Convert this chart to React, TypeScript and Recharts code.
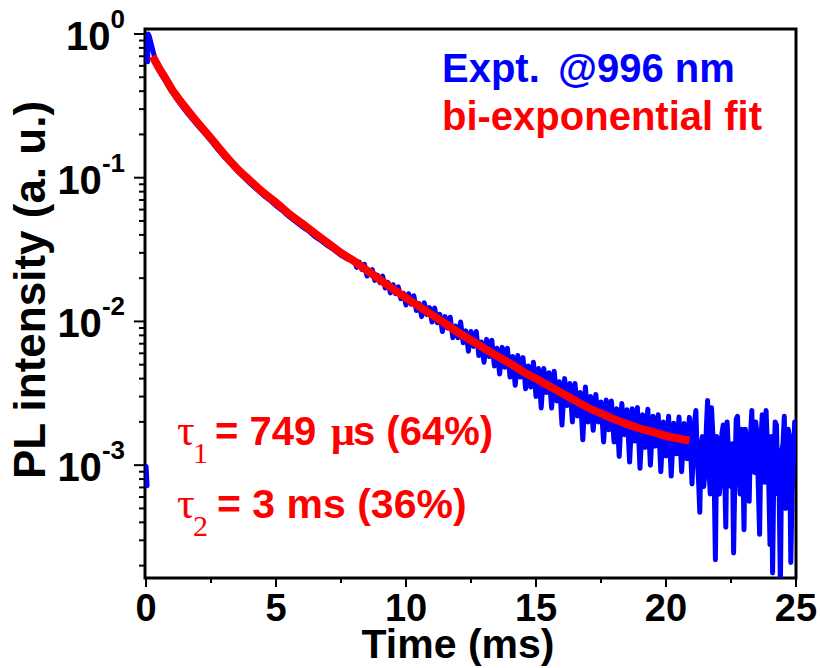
import { LineChart, Line, XAxis, YAxis, ReferenceArea } from 'recharts'

const SANS = "'Liberation Sans', Arial, Helvetica, sans-serif"
const SERIF = "'Liberation Serif', 'Times New Roman', serif"

const X_MIN = -0.04
const X_MAX = 25
const Y_MIN = 1.64e-4
const Y_MAX = 1.083

// measured decay @996 nm (ms, a.u.)
const exptTime = [
  0, 0.04, 0.05, 0.06, 0.08, 0.12, 0.2, 0.3, 0.4, 0.5, 0.75, 1, 1.25, 1.5, 1.75, 2, 2.25, 2.5, 2.75, 3, 3.25, 3.5,
  3.75, 4, 4.25, 4.5, 4.75, 5, 5.25, 5.5, 5.75, 6, 6.25, 6.5, 6.75, 7, 7.25, 7.5, 7.75,
  8.0, 8.1, 8.2, 8.3, 8.4, 8.5, 8.6, 8.7, 8.8, 8.9,
  9.0, 9.1, 9.2, 9.3, 9.4, 9.5, 9.6, 9.7, 9.8, 9.9,
  10.0, 10.1, 10.2, 10.3, 10.4, 10.5, 10.6, 10.7, 10.8, 10.9,
  11.0, 11.1, 11.2, 11.3, 11.4, 11.5, 11.6, 11.7, 11.8, 11.9,
  12.0, 12.1, 12.2, 12.3, 12.4, 12.5, 12.6, 12.7, 12.8, 12.9,
  13.0, 13.1, 13.2, 13.3, 13.4, 13.5, 13.6, 13.7, 13.8, 13.9,
  14.0, 14.1, 14.2, 14.3, 14.4, 14.5, 14.6, 14.7, 14.8, 14.9,
  15.0, 15.1, 15.2, 15.3, 15.4, 15.5, 15.6, 15.7, 15.8, 15.9,
  16.0, 16.1, 16.2, 16.3, 16.4, 16.5, 16.6, 16.7, 16.8, 16.9,
  17.0, 17.1, 17.2, 17.3, 17.4, 17.5, 17.6, 17.7, 17.8, 17.9,
  18.0, 18.1, 18.2, 18.3, 18.4, 18.5, 18.6, 18.7, 18.8, 18.9,
  19.0, 19.1, 19.2, 19.3, 19.4, 19.5, 19.6, 19.7, 19.8, 19.9,
  20.0, 20.1, 20.2, 20.3, 20.4, 20.5, 20.6, 20.7, 20.8, 20.9,
  21.0, 21.1, 21.2, 21.3, 21.4, 21.5, 21.6, 21.7, 21.8, 21.9,
  22.0, 22.1, 22.2, 22.3, 22.4, 22.5, 22.6, 22.7, 22.8, 22.9,
  23.0, 23.1, 23.2, 23.3, 23.4, 23.5, 23.6, 23.7, 23.8, 23.9,
  24.0, 24.1, 24.2, 24.3, 24.4, 24.5, 24.6, 24.7, 24.8, 24.9,
  25.0,
]
const exptIntensity = [
  0.00098, 0.00072, null, 0.64, 1.0, 0.97, 0.85, 0.72, 0.617, 0.556, 0.468, 0.394, 0.339, 0.295, 0.26, 0.229, 0.204,
  0.18, 0.158, 0.14, 0.126, 0.112, 0.101, 0.0912, 0.0832, 0.0759, 0.07, 0.0638, 0.0589, 0.0537, 0.0495, 0.0457,
  0.0427, 0.0389, 0.0363, 0.0335, 0.0313, 0.0288, 0.0272,
  0.0269, 0.0238, 0.0259, 0.023, 0.025, 0.0207, 0.022, 0.0229, 0.0193, 0.021,
  0.0186, 0.0207, 0.0171, 0.0187, 0.0158, 0.018, 0.0156, 0.0174, 0.0144, 0.0157,
  0.013, 0.0156, 0.0132, 0.0151, 0.0119, 0.0133, 0.0108, 0.0135, 0.0112, 0.0125,
  0.0099, 0.0124, 0.0098, 0.0112, 0.0085, 0.0108, 0.009, 0.0107, 0.0077, 0.0093,
  0.0077, 0.0099, 0.0071, 0.0086, 0.0062, 0.0085, 0.0067, 0.0085, 0.0058, 0.0072,
  0.0052, 0.0075, 0.0057, 0.0074, 0.0049, 0.0065, 0.0043, 0.0066, 0.0048, 0.0065,
  0.0041, 0.0057, 0.0036, 0.0058, 0.0041, 0.0056, 0.0034, 0.0049, 0.0035, 0.0052,
  0.003, 0.0047, 0.0025, 0.0047, 0.0032, 0.0044, 0.0025, 0.0045, 0.0028, 0.0038,
  0.0019, 0.004, 0.0026, 0.0037, 0.002, 0.0037, 0.0022, 0.0032, 0.0015, 0.0035,
  0.002, 0.003, 0.00175, 0.0031, 0.002, 0.00275, 0.00145, 0.00284, 0.00176, 0.0028,
  0.00145, 0.00247, 0.00115, 0.00269, 0.00163, 0.00243, 0.00105, 0.00247, 0.00147, 0.00252,
  0.00095, 0.00224, 0.00133, 0.00245, 0.001, 0.00219, 0.00136, 0.00224, 0.0009, 0.002,
  0.00116, 0.00219, 0.00084, 0.00196, 0.0012, 0.00216, 0.0009, 0.00195, 0.00111, 0.00215,
  0.00074, 0.002, 0.00112, 0.00047, 0.00158, 0.00089, 0.00282, 0.00063, 0.00166, 0.00022,
  0.00141, 0.00079, 0.0019, 0.00037, 0.00126, 0.00071, 0.000245, 0.00209, 0.001, 0.00178,
  0.000355, 0.00151, 0.00056, 0.0024, 0.00089, 0.00166, 0.00033, 0.00224, 0.00076, 0.00132,
  0.00028, 0.000178, 0.002, 0.00063, 0.000141, 0.00141, 0.0005, 0.00178, 0.00021, 0.00112,
  0.00158,
]
// extra samples in the noisy tail (between the 0.1 ms grid points)
const tailTime = [
  21.05, 21.15, 21.25, 21.35, 21.45, 21.55, 21.65, 21.75, 21.85, 21.95,
  22.05, 22.15, 22.25, 22.35, 22.45, 22.55, 22.65, 22.75, 22.85, 22.95,
  23.05, 23.15, 23.25, 23.35, 23.45, 23.55, 23.65, 23.75, 23.85, 23.95,
  24.05, 24.15, 24.25, 24.35, 24.45, 24.55, 24.65, 24.75, 24.85, 24.95,
]
const tailIntensity = [
  0.00126, 0.0024, 0.00079, 0.00141, 0.00071, 0.00178, 0.001, 0.00251, 0.00089, 0.00158,
  0.00063, 0.00166, 0.001, 0.002, 0.00079, 0.00141, 0.00089, 0.00219, 0.00063, 0.00126,
  0.00178, 0.00079, 0.00158, 0.001, 0.002, 0.00071, 0.00141, 0.00112, 0.0024, 0.00079,
  0.00158, 0.001, 0.0019, 0.00071, 0.00126, 0.00219, 0.00089, 0.00158, 0.00063, 0.002,
]

// bi-exponential fit
const fitTime = [
  0.25, 0.5, 0.75, 1, 1.25, 1.5, 1.75, 2, 2.5, 3, 3.5, 4, 4.5, 5, 5.5, 6, 6.5, 7, 7.5, 8, 8.5, 9, 9.5, 10, 10.5, 11,
  11.5, 12, 12.5, 13, 13.5, 14, 14.5, 15, 15.5, 16, 16.5, 17, 17.5, 18, 18.5, 19, 19.5, 20, 20.5, 20.9,
]
const fitIntensity = [
  0.7, 0.58, 0.49, 0.41, 0.355, 0.31, 0.272, 0.24, 0.188, 0.146, 0.116, 0.0955, 0.079, 0.067, 0.056, 0.048, 0.041,
  0.035, 0.03, 0.0263, 0.0226, 0.0195, 0.0168, 0.0146, 0.0127, 0.0111, 0.0097, 0.0084, 0.0074, 0.0065, 0.00575,
  0.0051, 0.00447, 0.004, 0.00355, 0.00316, 0.00282, 0.00251, 0.00229, 0.00209, 0.00193, 0.0018, 0.0017, 0.0016,
  0.00153, 0.00148,
]

const yDecades = [1e-3, 1e-2, 1e-1, 1]
const yMinorSteps = [2, 3, 4, 5, 6, 7, 8, 9]
const xTicks = [0, 2.5, 5, 7.5, 10, 12.5, 15, 17.5, 20, 22.5, 25]
const xLabeled = [0, 5, 10, 15, 20, 25]

const exptData = [
  ...exptTime.map((t, i) => ({ t, v: exptIntensity[i] })),
  ...tailTime.map((t, i) => ({ t, v: tailIntensity[i] })),
].sort((a, b) => a.t - b.t)
const fitData = fitTime.map((t, i) => ({ t, v: fitIntensity[i] }))

const yTicks = [
  ...yDecades,
  ...[1e-4, 1e-3, 1e-2, 1e-1].flatMap((d) => yMinorSteps.map((m) => +(m * d).toPrecision(3))),
]
  .filter((v) => v >= Y_MIN && v <= Y_MAX)
  .sort((a, b) => a - b)

function YTick(props: any) {
  const { x, y, payload } = props
  const v = payload.value
  const major = yDecades.includes(v)
  const e = Math.round(Math.log10(v))
  return (
    <g>
      <line x1={x - (major ? 11 : 6)} x2={x} y1={y} y2={y} stroke="#000" strokeWidth={2} />
      {major && (
        <text x={x - 20} y={y + 16} textAnchor="end" fontFamily={SANS} fontWeight="bold" fontSize={40} fill="#000">
          10
          <tspan dy={-22} fontSize={26}>
            {e}
          </tspan>
        </text>
      )}
    </g>
  )
}

function XTick(props: any) {
  const { x, y, payload } = props
  const v = payload.value
  const major = xLabeled.includes(v)
  return (
    <g>
      <line x1={x} x2={x} y1={y} y2={y + (major ? 9 : 5)} stroke="#000" strokeWidth={2} />
      {major && (
        <text x={x} y={y + 43} textAnchor="middle" fontFamily={SANS} fontWeight="bold" fontSize={38} fill="#000">
          {v}
        </text>
      )}
    </g>
  )
}

export default function App() {
  return (
    <div style={{ position: 'absolute', left: 0, top: 0, width: 820, height: 668, background: '#fff' }}>
      <LineChart width={820} height={668} margin={{ top: 29, right: 24, bottom: 0, left: 0 }}>
        <XAxis
          dataKey="t"
          type="number"
          domain={[X_MIN, X_MAX]}
          allowDataOverflow
          ticks={xTicks}
          interval={0}
          height={90}
          tickSize={0}
          tickMargin={0}
          axisLine={false}
          tickLine={false}
          tick={XTick}
        />
        <YAxis
          dataKey="v"
          scale="log"
          type="number"
          domain={[Y_MIN, Y_MAX]}
          allowDataOverflow
          ticks={yTicks}
          interval={0}
          width={145}
          tickSize={0}
          tickMargin={0}
          axisLine={false}
          tickLine={false}
          tick={YTick}
        />
        <Line
          data={exptData}
          dataKey="v"
          type="linear"
          stroke="#0000ff"
          strokeWidth={5}
          strokeLinejoin="round"
          strokeLinecap="round"
          dot={false}
          connectNulls={false}
          isAnimationActive={false}
        />
        <Line
          data={fitData}
          dataKey="v"
          type="monotone"
          stroke="#ff0000"
          strokeWidth={8}
          dot={false}
          isAnimationActive={false}
        />
        <ReferenceArea
          x1={X_MIN}
          x2={X_MAX}
          y1={Y_MIN}
          y2={Y_MAX}
          ifOverflow="visible"
          fill="none"
          fillOpacity={0}
          stroke="#000"
          strokeWidth={3}
        />
      </LineChart>
      <svg
        width={820}
        height={668}
        style={{ position: 'absolute', left: 0, top: 0, pointerEvents: 'none' }}
      >
        <text x={442} y={82} fontFamily={SANS} fontWeight="bold" fontSize={40} fill="#0000ff">
          Expt.
          <tspan x={558}>@996 nm</tspan>
        </text>
        <text x={442} y={130} fontFamily={SANS} fontWeight="bold" fontSize={40} fill="#ff0000">
          bi-exponential fit
        </text>

        <text y={445} fill="#ff0000">
          <tspan x={177} fontFamily={SERIF} fontSize={44}>τ</tspan>
          <tspan x={193} dy={18} fontFamily={SERIF} fontSize={30}>1</tspan>
          <tspan x={215} dy={-18} fontFamily={SANS} fontWeight="bold" fontSize={40}>= 749</tspan>
          <tspan x={331} fontFamily={SERIF} fontWeight="bold" fontSize={42}>μ</tspan>
          <tspan x={353} fontFamily={SANS} fontWeight="bold" fontSize={40}>s (64%)</tspan>
        </text>
        <text y={518} fill="#ff0000">
          <tspan x={177} fontFamily={SERIF} fontSize={44}>τ</tspan>
          <tspan x={193} dy={18} fontFamily={SERIF} fontSize={30}>2</tspan>
          <tspan x={217} dy={-18} fontFamily={SANS} fontWeight="bold" fontSize={41}>= 3 ms (36%)</tspan>
        </text>

        <text
          transform="translate(45 290) rotate(-90)"
          textAnchor="middle"
          fontFamily={SANS}
          fontWeight="bold"
          fontSize={44}
          fill="#000"
        >
          PL intensity (a. u.)
        </text>
        <text x={458} y={658} textAnchor="middle" fontFamily={SANS} fontWeight="bold" fontSize={41} fill="#000">
          Time (ms)
        </text>
      </svg>
    </div>
  )
}
